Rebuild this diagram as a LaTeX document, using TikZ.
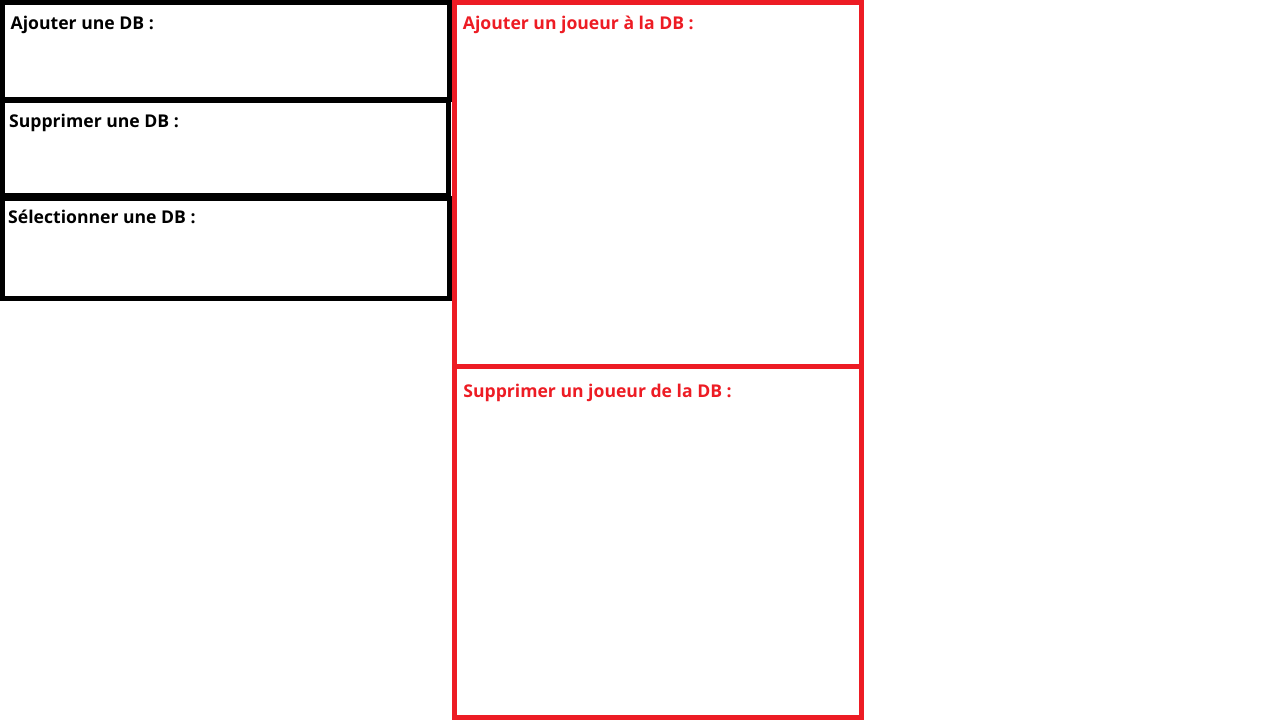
\documentclass[tikz,border=0pt]{standalone}
\usepackage{fontspec}
\setmainfont{Open Sans}
\usepackage{xcolor}
\usepackage{tikz}
\usetikzlibrary{calc}

\definecolor{paintred}{HTML}{ED1C24}

\begin{document}
\begin{tikzpicture}
    [
      x=1pt, y=-1pt,
      dbbox/.style = {draw=black, line width=5pt, inner sep=0pt, outer sep=0pt, anchor=north west},
      playerbox/.style = {draw=paintred, line width=5pt, inner sep=0pt, outer sep=0pt, anchor=north west},
      title/.style = {anchor=base west, inner sep=0pt, font=\fontsize{17.6}{20}\selectfont\bfseries},
    ]
    \useasboundingbox (0,0) rectangle (1280,720);

    % DB boxes
    \node[dbbox, minimum width=447pt, minimum height=97pt] (add) at (2.5,2.5) {};
    \node[dbbox, minimum width=446.5pt, minimum height=95pt] (del) at (2,100.5) {};
    \node[dbbox, minimum width=447.5pt, minimum height=99.5pt] (sel) at (2,198.5) {};

    % player boxes
    \node[playerbox, minimum width=406.6pt, minimum height=364pt] (addp) at (454.7,2.5) {};
    \node[playerbox, minimum width=406.6pt, minimum height=350.8pt] (delp) at (454.7,366.5) {};

    \node[title] (addt) at ($(add.north west)+(8,26.5)$) {Ajouter une DB :};
    \node[title] (delt) at ($(del.north west)+(7,26.5)$) {Supprimer une DB :};
    \node[title] (selt) at ($(sel.north west)+(6,24.5)$) {Sélectionner une DB :};
    \node[title, text=paintred] (addpt) at ($(addp.north west)+(8,26.5)$) {Ajouter un joueur à la DB :};
    \node[title, text=paintred] (delpt) at ($(delp.north west)+(8.5,30.5)$) {Supprimer un joueur de la DB :};
\end{tikzpicture}
\end{document}
